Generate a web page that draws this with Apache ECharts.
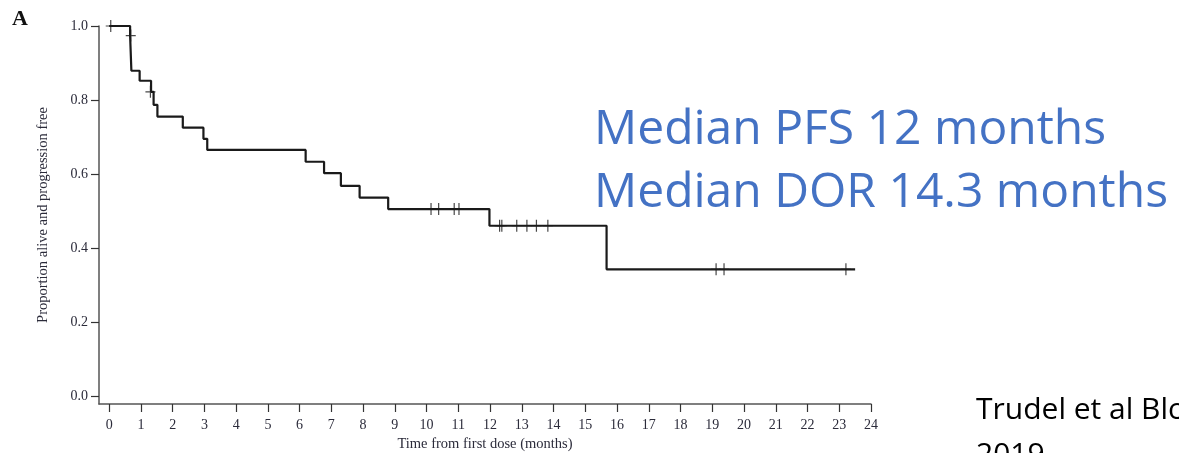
<!DOCTYPE html>
<html>
<head>
<meta charset="utf-8">
<script src="https://cdn.jsdelivr.net/npm/echarts@6/dist/echarts.min.js"></script>
<style>
  html, body { margin: 0; padding: 0; background: #fff; }
  #km-chart { width: 1179px; height: 453px; }
</style>
</head>
<body>
<div id="km-chart"></div>
<script>
// Kaplan-Meier steps (months, proportion)
var stepTimes = [0, 0.66, 0.70, 0.96, 1.32, 1.40, 1.52, 2.32, 2.97, 3.09, 6.19, 6.77, 7.30, 7.89, 8.79, 11.98, 15.67, 23.5];
var stepSurv  = [1.0, 0.974, 0.879, 0.852, 0.822, 0.787, 0.755, 0.725, 0.695, 0.665, 0.633, 0.602, 0.568, 0.536, 0.505, 0.460, 0.342, 0.342];

// censored patients (+ marks)
var censorTimes = [0.05, 0.68, 1.30, 10.14, 10.38, 10.87, 11.02, 12.30, 12.37, 12.84, 13.16, 13.46, 13.82, 19.12, 19.37, 23.21];
var censorSurv  = [1.0, 0.974, 0.822, 0.505, 0.505, 0.505, 0.505, 0.460, 0.460, 0.460, 0.460, 0.460, 0.460, 0.342, 0.342, 0.342];

var xTicks = [0, 1, 2, 3, 4, 5, 6, 7, 8, 9, 10, 11, 12, 13, 14, 15, 16, 17, 18, 19, 20, 21, 22, 23, 24];
var yTicks = [0, 0.2, 0.4, 0.6, 0.8, 1.0];

var chart = echarts.init(document.getElementById('km-chart'));

var serif = '"Liberation Serif", "DejaVu Serif", serif';
var axisColor = '#555';
var labelColor = '#2b2b3a';

var option = {
  backgroundColor: '#fff',
  animation: false,
  grid: { left: 99, right: 308, top: 26, bottom: 49, containLabel: false, outerBoundsMode: 'none' },
  xAxis: {
    type: 'value',
    min: -0.32,
    max: 24,
    name: 'Time from first dose (months)',
    nameLocation: 'middle',
    nameGap: 28,
    nameTextStyle: { fontFamily: serif, fontSize: 14.5, color: labelColor },
    axisLine: { show: true, onZero: false, lineStyle: { color: axisColor, width: 1.5 } },
    axisTick: { show: true, inside: false, length: 8, customValues: xTicks, lineStyle: { color: '#333', width: 1.2 } },
    axisLabel: { customValues: xTicks, fontFamily: serif, fontSize: 14, color: labelColor, margin: 14 },
    splitLine: { show: false }
  },
  yAxis: {
    type: 'value',
    min: -0.022,
    max: 1.0,
    name: 'Proportion alive and progression free',
    nameLocation: 'middle',
    nameGap: 48,
    nameTextStyle: { fontFamily: serif, fontSize: 14.5, color: labelColor },
    axisLine: { show: true, onZero: false, lineStyle: { color: axisColor, width: 1.5 } },
    axisTick: { show: true, inside: false, length: 8, customValues: yTicks, lineStyle: { color: '#333', width: 1.2 } },
    axisLabel: {
      customValues: yTicks, fontFamily: serif, fontSize: 14, color: labelColor, margin: 11,
      formatter: function (v) { return v.toFixed(1); }
    },
    splitLine: { show: false }
  },
  series: [
    {
      type: 'line',
      step: 'end',
      data: stepTimes.map(function (t, i) { return [t, stepSurv[i]]; }),
      showSymbol: false,
      lineStyle: { color: '#1a1a1a', width: 2.2 },
      z: 2
    },
    {
      type: 'scatter',
      data: censorTimes.map(function (t, i) { return [t, censorSurv[i]]; }),
      symbol: 'path://M4.4,0H5.6V12H4.4Z M0,5.4H10V6.6H0Z',
      symbolSize: [10, 12],
      itemStyle: { color: '#1a1a1a' },
      z: 3
    }
  ],
  graphic: [
    {
      type: 'text', left: 12, top: 8,
      style: { text: 'A', font: 'bold 22px ' + serif, fill: '#111' }
    },
    {
      type: 'text', left: 594, top: 106,
      style: { text: 'Median PFS 12 months', font: '48px "Open Sans", sans-serif', fill: '#4472C4' }
    },
    {
      type: 'text', left: 594, top: 169,
      style: { text: 'Median DOR 14.3 months', font: '48px "Open Sans", sans-serif', fill: '#4472C4' }
    },
    {
      type: 'text', left: 976, top: 395,
      style: { text: 'Trudel et al Blood', font: '30px "Open Sans", sans-serif', fill: '#000' }
    },
    {
      type: 'text', left: 976, top: 440,
      style: { text: '2019', font: '30px "Open Sans", sans-serif', fill: '#000' }
    }
  ]
};

chart.setOption(option);
</script>
</body>
</html>
